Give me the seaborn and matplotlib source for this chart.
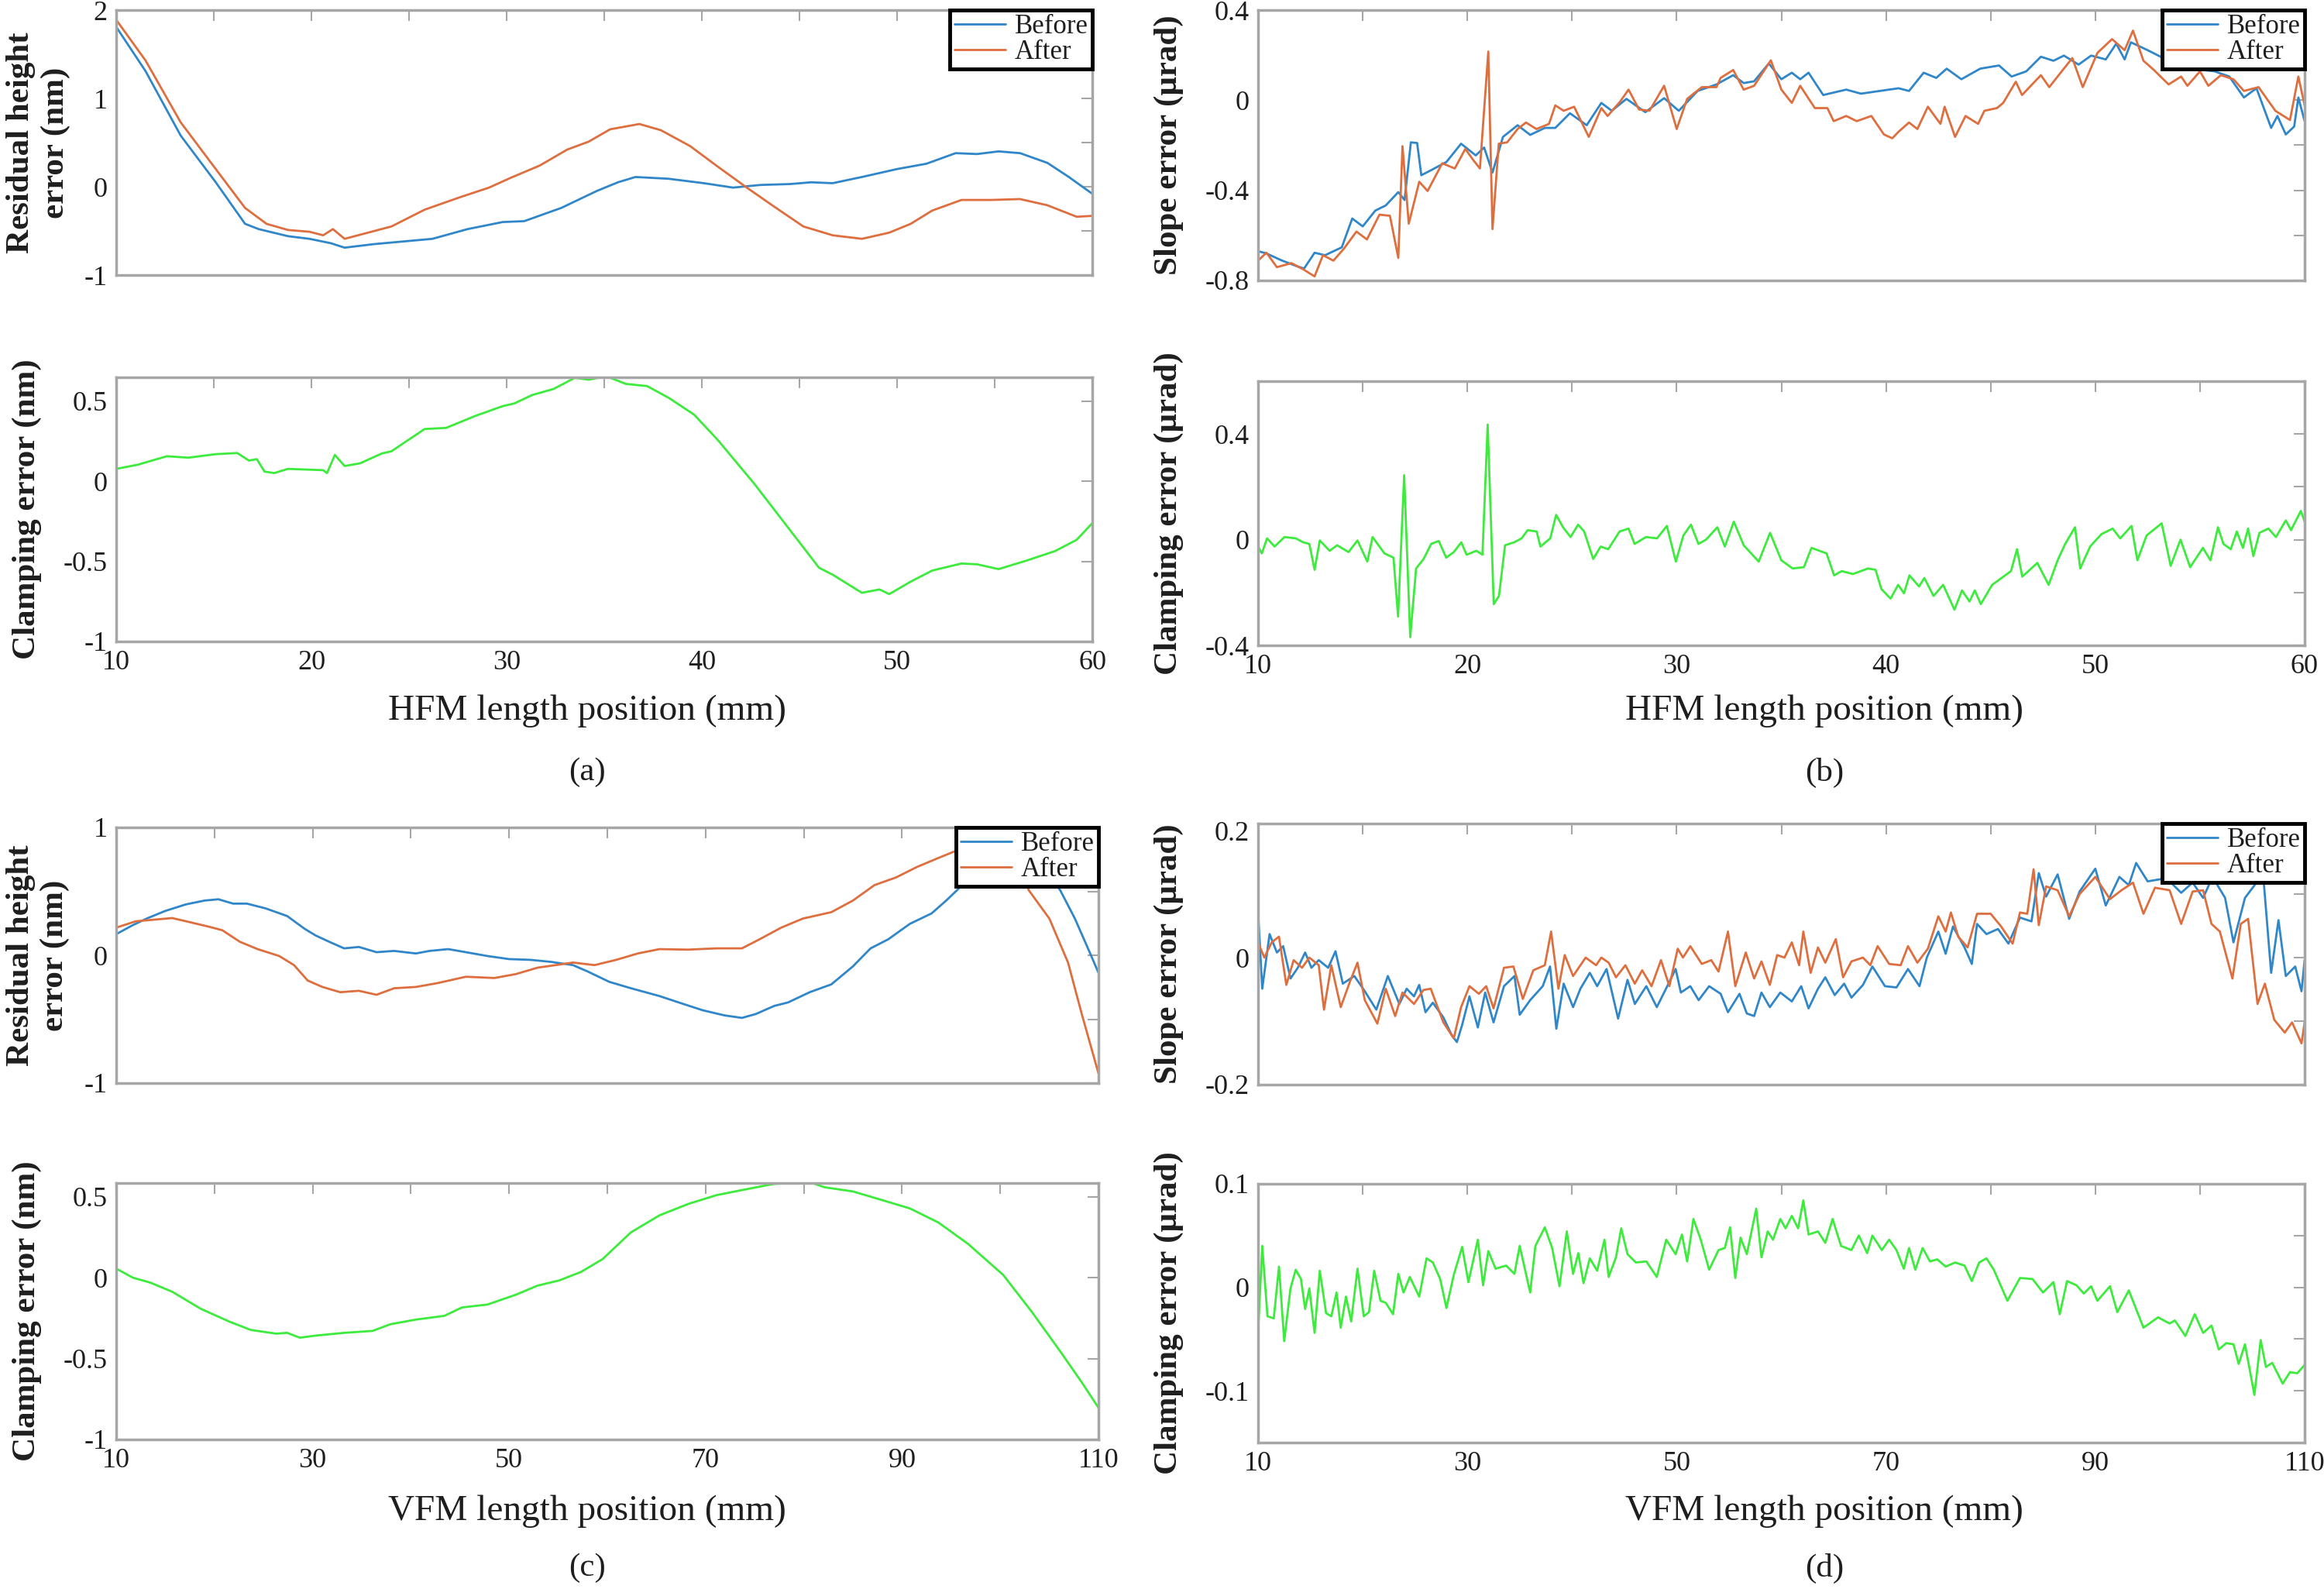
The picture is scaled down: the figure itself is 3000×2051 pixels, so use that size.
import numpy as np
import pandas as pd
import seaborn as sns
import matplotlib.pyplot as plt

# ---- (a) HFM, residual height error (nm) ----
a_before_x = [10.0, 11.5, 13.3, 15.1, 16.6, 17.3, 18.8, 19.9, 21.0, 21.7, 23.2, 24.7, 26.2, 28.0, 29.8,
              30.9, 32.8, 34.6, 35.7, 36.6, 38.3, 40.1, 41.6, 43.0, 44.5, 45.6, 46.7, 48.2, 50.0, 51.5,
              53.0, 54.1, 55.2, 56.3, 57.7, 58.8, 60.0]
a_before_y = [1.81, 1.31, 0.58, 0.05, -0.42, -0.48, -0.56, -0.59, -0.64, -0.69, -0.65, -0.62, -0.59, -0.48, -0.40,
              -0.39, -0.24, -0.05, 0.05, 0.11, 0.09, 0.04, -0.01, 0.02, 0.03, 0.05, 0.04, 0.11, 0.20, 0.26,
              0.38, 0.37, 0.40, 0.38, 0.27, 0.11, -0.08]
a_after_x = [10.0, 11.5, 13.3, 15.1, 16.6, 17.7, 18.8, 19.9, 20.6, 21.1, 21.7, 22.9, 24.1, 25.8, 27.6,
             29.1, 30.2, 31.7, 33.1, 34.2, 35.3, 36.8, 37.9, 39.4, 40.8, 42.3, 43.8, 45.2, 46.7, 48.2,
             49.6, 50.7, 51.8, 53.3, 54.8, 56.3, 57.7, 59.2, 60.0]
a_after_y = [1.89, 1.43, 0.73, 0.20, -0.24, -0.42, -0.49, -0.51, -0.55, -0.48, -0.59, -0.52, -0.45, -0.26, -0.12,
             -0.01, 0.10, 0.24, 0.42, 0.51, 0.65, 0.71, 0.64, 0.46, 0.23, -0.01, -0.24, -0.45, -0.55, -0.59,
             -0.52, -0.42, -0.27, -0.15, -0.15, -0.14, -0.21, -0.34, -0.33]
a_clamp_x = [10.0, 11.1, 12.6, 13.7, 15.1, 16.2, 16.8, 17.2, 17.6, 18.1, 18.8, 20.6, 20.8, 21.2, 21.7,
             22.5, 23.6, 24.1, 25.8, 26.9, 28.4, 29.8, 30.4, 31.3, 32.4, 33.5, 34.2, 35.1, 36.1, 37.2,
             38.3, 39.6, 40.8, 42.7, 43.8, 44.9, 46.0, 46.7, 48.2, 49.1, 49.6, 50.7, 51.8, 53.3, 54.1,
             55.2, 56.6, 58.1, 59.2, 60.0]
a_clamp_y = [0.078, 0.104, 0.157, 0.148, 0.17, 0.177, 0.13, 0.139, 0.061, 0.052, 0.078, 0.07, 0.052, 0.165, 0.096,
             0.113, 0.174, 0.188, 0.327, 0.334, 0.409, 0.47, 0.487, 0.539, 0.577, 0.647, 0.635, 0.657, 0.609, 0.595,
             0.522, 0.417, 0.261, -0.017, -0.191, -0.365, -0.539, -0.583, -0.696, -0.675, -0.704, -0.626, -0.557,
             -0.513, -0.518, -0.548, -0.496, -0.435, -0.365, -0.261]

# ---- (b) HFM, slope error (urad) ----
b_before_x = [10.0, 10.4, 11.1, 11.8, 12.2, 12.7, 13.2, 14.0, 14.5, 15.0, 15.6, 16.1, 16.7, 17.0, 17.3,
              17.6, 17.8, 18.3, 19.0, 19.7, 20.4, 20.8, 21.2, 21.7, 22.4, 23.0, 23.7, 24.2, 24.9, 25.7,
              26.4, 26.9, 27.6, 28.5, 29.4, 30.1, 31.0, 31.9, 32.7, 33.2, 33.7, 34.4, 35.0, 35.5, 35.9,
              36.3, 37.0, 38.1, 38.8, 39.7, 40.6, 41.1, 41.8, 42.4, 42.9, 43.6, 44.5, 45.4, 46.0, 46.7,
              47.4, 48.0, 48.5, 49.2, 49.8, 50.5, 51.0, 51.4, 51.7, 52.5, 53.5, 54.6, 55.7, 56.4, 57.1,
              57.7, 58.4, 58.7, 59.1, 59.5, 59.7, 60.0]
b_before_y = [-0.67, -0.68, -0.71, -0.735, -0.747, -0.677, -0.688, -0.653, -0.525, -0.56, -0.49, -0.467, -0.408,
              -0.443, -0.187, -0.19, -0.333, -0.309, -0.274, -0.193, -0.245, -0.21, -0.321, -0.163, -0.111,
              -0.154, -0.123, -0.123, -0.058, -0.111, -0.012, -0.047, 0.006, -0.053, 0.009, -0.047, 0.041,
              0.07, 0.111, 0.076, 0.084, 0.163, 0.093, 0.122, 0.093, 0.122, 0.023, 0.047, 0.029, 0.041,
              0.053, 0.041, 0.122, 0.099, 0.14, 0.093, 0.14, 0.154, 0.105, 0.128, 0.193, 0.175, 0.198,
              0.158, 0.198, 0.181, 0.251, 0.181, 0.257, 0.222, 0.175, 0.14, 0.128, 0.105, 0.012, 0.053,
              -0.123, -0.07, -0.152, -0.117, 0.012, -0.093]
b_after_x = [10.0, 10.4, 10.9, 11.6, 12.2, 12.7, 13.1, 13.6, 14.1, 14.7, 15.2, 15.8, 16.3, 16.7, 16.9,
             17.2, 17.7, 18.1, 18.8, 19.4, 19.9, 20.3, 20.6, 21.0, 21.2, 21.5, 21.9, 22.4, 22.8, 23.3,
             23.9, 24.2, 24.6, 25.1, 25.8, 26.4, 26.7, 27.3, 27.7, 28.2, 28.7, 29.4, 30.0, 30.5, 31.2,
             31.9, 32.1, 32.7, 33.2, 33.7, 34.5, 35.0, 35.5, 35.9, 36.6, 37.2, 37.5, 38.1, 38.6, 39.3,
             39.9, 40.3, 40.6, 41.1, 41.5, 42.0, 42.6, 42.8, 43.3, 43.8, 44.4, 44.7, 45.3, 45.6, 46.2,
             46.5, 47.4, 47.8, 48.3, 48.9, 49.4, 50.1, 50.8, 51.4, 51.8, 52.3, 52.8, 53.5, 54.1, 54.4,
             55.0, 55.4, 56.0, 56.6, 57.1, 57.8, 58.6, 59.3, 59.7, 60.0]
b_after_y = [-0.712, -0.677, -0.741, -0.723, -0.753, -0.782, -0.688, -0.712, -0.659, -0.583, -0.618, -0.508,
             -0.513, -0.70, -0.204, -0.548, -0.362, -0.403, -0.28, -0.303, -0.216, -0.268, -0.303, 0.216,
             -0.572, -0.193, -0.187, -0.128, -0.099, -0.128, -0.105, -0.023, -0.047, -0.029, -0.163, -0.035,
             -0.07, -0.006, 0.047, -0.041, -0.047, 0.064, -0.128, 0.006, 0.058, 0.058, 0.099, 0.134, 0.047,
             0.064, 0.177, 0.047, -0.012, 0.064, -0.035, -0.035, -0.093, -0.07, -0.093, -0.07, -0.152,
             -0.169, -0.14, -0.099, -0.128, -0.029, -0.105, -0.029, -0.163, -0.07, -0.105, -0.047, -0.035,
             -0.012, 0.082, 0.023, 0.111, 0.058, 0.117, 0.187, 0.058, 0.21, 0.271, 0.222, 0.309, 0.175,
             0.134, 0.07, 0.105, 0.064, 0.128, 0.064, 0.111, 0.093, 0.041, 0.058, -0.047, -0.088, 0.105, -0.023]
b_clamp_x = [10.0, 10.18, 10.43, 10.79, 11.26, 11.8, 12.16, 12.45, 12.7, 12.95,
             13.42, 13.78, 14.32, 14.75, 15.22, 15.47, 16.04, 16.47, 16.69, 16.98,
             17.27, 17.55, 17.91, 18.27, 18.63, 18.99, 19.35, 19.71, 19.96, 20.43,
             20.72, 20.97, 21.26, 21.51, 21.8, 22.23, 22.59, 22.88, 23.31, 23.49,
             23.96, 24.24, 24.57, 24.93, 25.29, 25.58, 26.01, 26.37, 26.73, 27.27,
             27.7, 27.99, 28.53, 29.06, 29.53, 29.96, 30.32, 30.68, 31.04, 31.4,
             31.94, 32.3, 32.73, 33.2, 33.92, 34.46, 35.0, 35.54, 36.08, 36.44,
             37.16, 37.52, 37.88, 38.42, 39.14, 39.5, 39.78, 40.22, 40.58, 40.86,
             41.12, 41.58, 41.83, 42.27, 42.73, 43.27, 43.63, 43.99, 44.24, 44.53,
             45.07, 45.61, 45.97, 46.26, 46.51, 47.23, 47.77, 48.2, 48.56, 49.03,
             49.28, 49.75, 50.29, 50.83, 51.19, 51.73, 52.01, 52.45, 53.17, 53.6,
             54.07, 54.53, 55.14, 55.5, 55.86, 56.12, 56.47, 56.76, 57.05, 57.3,
             57.55, 57.84, 58.27, 58.63, 59.1, 59.35, 59.82, 60.0]
b_clamp_y = [-0.026, -0.052, 0.005, -0.026, 0.01, 0.005, -0.01, -0.016, -0.114, -0.003,
             -0.042, -0.021, -0.047, -0.003, -0.083, 0.01, -0.052, -0.068, -0.291, 0.244,
             -0.369, -0.109, -0.073, -0.016, -0.005, -0.068, -0.047, -0.01, -0.057, -0.042,
             -0.057, 0.436, -0.244, -0.213, -0.021, -0.01, 0.005, 0.036, 0.031, -0.026,
             0.005, 0.094, 0.047, 0.01, 0.057, 0.031, -0.073, -0.026, -0.036, 0.031,
             0.042, -0.016, 0.01, 0.005, 0.052, -0.083, 0.016, 0.057, -0.016, 0.0,
             0.047, -0.026, 0.068, -0.021, -0.083, 0.026, -0.078, -0.109, -0.104, -0.031,
             -0.052, -0.135, -0.119, -0.13, -0.109, -0.114, -0.187, -0.223, -0.171, -0.203,
             -0.135, -0.177, -0.145, -0.213, -0.171, -0.265, -0.192, -0.234, -0.192, -0.244,
             -0.171, -0.14, -0.119, -0.036, -0.14, -0.088, -0.171, -0.078, -0.016, 0.047,
             -0.109, -0.026, 0.021, 0.042, 0.005, 0.052, -0.078, 0.016, 0.062, -0.099,
             0.0, -0.104, -0.031, -0.078, 0.047, -0.016, -0.036, 0.031, -0.031, 0.042,
             -0.062, 0.026, 0.042, 0.01, 0.073, 0.036, 0.109, 0.068]

# ---- (c) VFM, residual height error (nm) ----
c_before_x = [10.0, 11.7, 13.1, 15.0, 17.1, 19.0, 20.4, 21.9, 23.3, 25.2, 27.4, 29.2, 30.3, 31.7, 33.2,
              34.7, 36.5, 38.3, 40.5, 41.9, 43.8, 45.6, 47.8, 50.0, 52.2, 54.3, 56.5, 58.0, 60.2, 62.4,
              65.3, 67.5, 69.7, 71.9, 73.7, 75.1, 77.0, 78.4, 80.6, 82.8, 85.0, 86.8, 88.6, 90.8, 93.0,
              94.5, 95.6, 97.4, 99.6, 102.5, 104.7, 106.1, 107.6, 109.1, 110.0]
c_before_y = [0.165, 0.236, 0.287, 0.347, 0.398, 0.428, 0.438, 0.404, 0.404, 0.367, 0.307, 0.206, 0.155, 0.105,
              0.054, 0.065, 0.024, 0.034, 0.014, 0.034, 0.048, 0.024, -0.006, -0.03, -0.036, -0.052, -0.077,
              -0.127, -0.208, -0.258, -0.319, -0.375, -0.43, -0.47, -0.49, -0.46, -0.396, -0.369, -0.289,
              -0.228, -0.087, 0.054, 0.125, 0.246, 0.327, 0.428, 0.509, 0.65, 0.72, 0.75, 0.65, 0.509,
              0.287, 0.024, -0.137]
c_after_x = [10.0, 12.0, 13.5, 15.7, 17.1, 19.3, 20.8, 22.6, 24.4, 26.6, 28.1, 29.5, 31.0, 32.8, 34.7,
             36.5, 38.3, 40.5, 42.7, 45.6, 48.5, 50.7, 52.9, 55.1, 56.5, 58.7, 60.9, 63.1, 65.3, 68.2,
             71.1, 73.7, 75.5, 77.7, 79.9, 82.8, 85.0, 87.2, 89.4, 91.5, 93.7, 95.9, 98.8, 101.8, 102.9,
             105.0, 106.9, 108.3, 110.0]
c_after_y = [0.216, 0.266, 0.276, 0.291, 0.266, 0.226, 0.196, 0.105, 0.048, -0.006, -0.077, -0.198, -0.248,
             -0.289, -0.278, -0.309, -0.258, -0.248, -0.218, -0.168, -0.178, -0.147, -0.097, -0.073, -0.057,
             -0.077, -0.036, 0.014, 0.048, 0.044, 0.054, 0.054, 0.125, 0.216, 0.287, 0.337, 0.428, 0.549,
             0.609, 0.69, 0.761, 0.83, 0.86, 0.72, 0.509, 0.287, -0.057, -0.46, -0.924]
c_clamp_x = [10.0, 11.7, 13.5, 15.7, 18.6, 21.5, 23.7, 26.3, 27.4, 28.7, 30.3, 33.2, 36.1, 37.9, 40.5,
             43.4, 45.2, 47.8, 50.7, 52.9, 55.1, 57.3, 59.5, 62.4, 65.3, 68.2, 71.1, 74.0, 77.0, 79.1,
             80.6, 82.1, 85.0, 87.9, 90.8, 93.7, 96.7, 100.3, 103.2, 106.1, 108.3, 110.0]
c_clamp_y = [0.056, 0.0, -0.031, -0.087, -0.192, -0.271, -0.323, -0.346, -0.341, -0.371, -0.358, -0.341,
             -0.329, -0.288, -0.259, -0.236, -0.184, -0.166, -0.105, -0.049, -0.017, 0.035, 0.114, 0.28,
             0.385, 0.455, 0.51, 0.545, 0.58, 0.586, 0.591, 0.559, 0.533, 0.481, 0.428, 0.341, 0.21,
             0.017, -0.21, -0.455, -0.647, -0.804]

# ---- (d) VFM, slope error (urad) ----
d_before_x = [10.0, 10.4, 11.1, 11.8, 12.4, 13.1, 13.8, 14.5, 15.1, 15.8, 16.7, 17.4, 18.1, 19.2, 20.2,
              21.3, 22.4, 23.5, 24.2, 24.9, 25.4, 26.0, 26.7, 27.7, 28.5, 29.0, 29.5, 30.2, 31.0, 31.7,
              32.5, 33.5, 34.5, 35.0, 36.0, 37.2, 37.9, 38.5, 39.2, 40.1, 40.8, 41.7, 42.4, 43.3, 44.4,
              45.3, 46.0, 47.1, 48.1, 49.1, 49.9, 50.4, 51.3, 52.1, 53.1, 54.2, 54.9, 56.0, 56.7, 57.4,
              58.1, 58.9, 59.9, 61.0, 61.9, 62.6, 63.5, 64.2, 65.1, 66.0, 66.7, 67.8, 68.7, 69.9, 71.0,
              72.1, 73.2, 73.9, 75.0, 75.7, 76.4, 77.5, 78.2, 78.7, 79.6, 80.7, 81.7, 82.8, 83.9, 84.6,
              85.3, 86.4, 87.5, 88.5, 90.0, 91.0, 92.3, 93.2, 93.9, 95.0, 96.8, 98.2, 99.3, 100.3, 101.2,
              102.4, 103.2, 104.3, 105.4, 106.1, 106.8, 107.5, 108.2, 109.1, 109.7, 110.0]
d_before_y = [0.073, -0.049, 0.037, 0.008, 0.018, -0.033, -0.016, 0.008, -0.016, -0.004,
              -0.016, 0.01, -0.041, -0.029, -0.053, -0.082, -0.029, -0.073, -0.049, -0.061,
              -0.043, -0.086, -0.071, -0.094, -0.122, -0.133, -0.106, -0.061, -0.11, -0.055,
              -0.102, -0.045, -0.029, -0.09, -0.067, -0.045, -0.014, -0.112, -0.041, -0.078,
              -0.049, -0.024, -0.045, -0.018, -0.096, -0.035, -0.073, -0.045, -0.078, -0.045,
              -0.018, -0.055, -0.045, -0.067, -0.045, -0.057, -0.086, -0.057, -0.088, -0.092,
              -0.055, -0.078, -0.055, -0.069, -0.045, -0.08, -0.049, -0.031, -0.059, -0.041,
              -0.063, -0.043, -0.014, -0.045, -0.047, -0.018, -0.045, 0.0, 0.041, 0.006,
              0.049, 0.016, -0.01, 0.053, 0.037, 0.045, 0.022, 0.063, 0.057, 0.133,
              0.096, 0.131, 0.061, 0.104, 0.14, 0.082, 0.127, 0.114, 0.149, 0.12,
              0.125, 0.102, 0.118, 0.094, 0.127, 0.094, 0.024, 0.094, 0.118, 0.118,
              -0.024, 0.059, -0.029, -0.014, -0.053, -0.004]
d_after_x = [10.0, 10.6, 11.3, 12.0, 12.7, 13.4, 14.2, 14.9, 15.8, 16.3, 17.0, 17.9, 18.8, 19.5, 20.2,
             21.4, 22.2, 23.1, 23.8, 24.9, 25.8, 26.5, 27.7, 28.7, 29.4, 30.2, 31.1, 31.8, 32.5, 33.5,
             34.4, 35.3, 36.3, 37.4, 38.0, 38.7, 39.3, 40.1, 41.3, 42.3, 42.8, 43.5, 44.2, 45.1, 46.0,
             46.7, 47.6, 48.5, 49.3, 50.1, 50.6, 51.3, 52.4, 53.3, 54.0, 54.9, 55.6, 56.6, 57.4, 58.1,
             58.9, 59.6, 60.3, 61.0, 61.7, 62.1, 62.8, 63.5, 64.2, 65.2, 65.9, 66.7, 67.8, 68.5, 69.2,
             70.3, 71.4, 72.1, 73.0, 74.0, 75.0, 75.7, 76.2, 76.9, 77.8, 78.7, 80.0, 81.0, 82.1, 82.8,
             83.5, 84.1, 84.6, 85.3, 86.4, 87.5, 88.5, 90.0, 91.4, 92.5, 93.6, 94.6, 95.7, 97.1, 98.2,
             99.3, 100.3, 101.1, 101.9, 103.1, 103.9, 104.6, 105.5, 106.2, 107.1, 108.1, 108.8, 109.7, 110.0]
d_after_y = [0.024, 0.0, 0.024, 0.033, -0.043, -0.004, -0.016, 0.0, -0.012, -0.082,
             -0.012, -0.078, -0.037, -0.008, -0.067, -0.104, -0.049, -0.092, -0.055, -0.073,
             -0.051, -0.049, -0.102, -0.127, -0.078, -0.045, -0.057, -0.045, -0.08, -0.016,
             -0.014, -0.065, -0.02, -0.012, 0.041, -0.049, 0.004, -0.029, 0.0, -0.012,
             0.0, -0.008, -0.031, -0.012, -0.041, -0.02, -0.045, -0.004, -0.045, 0.014,
             0.0, 0.018, -0.01, -0.004, -0.022, 0.041, -0.045, 0.008, -0.033, -0.006,
             -0.043, 0.004, 0.0, 0.024, -0.012, 0.041, -0.024, 0.016, -0.008, 0.029,
             -0.031, -0.006, 0.0, -0.012, 0.018, -0.01, -0.012, 0.018, -0.008, 0.014,
             0.065, 0.041, 0.071, 0.033, 0.016, 0.069, 0.069, 0.049, 0.022, 0.071,
             0.069, 0.139, 0.051, 0.112, 0.106, 0.065, 0.1, 0.127, 0.092, 0.106,
             0.118, 0.069, 0.11, 0.106, 0.053, 0.104, 0.106, 0.053, 0.041, -0.033,
             0.053, 0.061, -0.073, -0.041, -0.098, -0.118, -0.102, -0.135, -0.102]
d_clamp_x = [10.0, 10.4, 10.9, 11.5, 12.0, 12.5, 13.1, 13.6, 14.1, 14.5,
             14.9, 15.4, 15.9, 16.5, 17.0, 17.5, 17.9, 18.4, 18.9, 19.5,
             20.1, 20.6, 21.1, 21.7, 22.2, 22.9, 23.4, 23.9, 24.5, 25.4,
             26.1, 26.7, 27.4, 28.0, 28.7, 29.5, 30.1, 31.0, 31.5, 32.0,
             32.7, 33.7, 34.5, 35.0, 36.0, 36.5, 37.4, 38.1, 38.8, 39.5,
             40.1, 40.6, 41.1, 41.7, 42.4, 43.1, 43.5, 44.2, 44.7, 45.3,
             46.1, 47.1, 48.1, 49.0, 49.9, 50.5, 51.0, 51.6, 52.3, 53.1,
             54.0, 54.6, 55.1, 55.6, 56.1, 56.7, 57.6, 58.1, 58.7, 59.2,
             59.9, 60.4, 61.0, 61.6, 62.1, 62.6, 63.5, 64.2, 64.9, 65.7,
             66.7, 67.4, 68.2, 68.7, 69.6, 70.3, 71.0, 71.7, 72.2, 72.8,
             73.5, 74.2, 74.9, 75.7, 76.6, 77.5, 78.2, 78.9, 79.6, 80.3,
             81.6, 82.8, 84.0, 85.0, 86.0, 86.6, 87.3, 88.2, 88.9, 89.6,
             90.2, 91.4, 92.1, 93.2, 94.6, 96.0, 97.1, 97.6, 98.6, 99.5,
             100.3, 101.1, 101.8, 102.5, 103.2, 103.7, 104.3, 105.2, 105.8, 106.3,
             106.9, 107.9, 108.6, 109.3, 110.0]
d_clamp_y = [-0.044, 0.04, -0.028, -0.03, 0.02, -0.052, -0.001, 0.017, 0.008, -0.021,
             -0.001, -0.044, 0.016, -0.025, -0.028, -0.005, -0.039, -0.009, -0.033, 0.018,
             -0.028, -0.024, 0.016, -0.013, -0.015, -0.026, 0.013, -0.005, 0.01, -0.009,
             0.028, 0.024, 0.008, -0.02, 0.012, 0.039, 0.005, 0.046, 0.002, 0.035,
             0.018, 0.021, 0.013, 0.04, -0.005, 0.04, 0.058, 0.038, 0.001, 0.054,
             0.013, 0.033, 0.004, 0.028, 0.016, 0.046, 0.01, 0.029, 0.057, 0.032,
             0.024, 0.025, 0.01, 0.046, 0.032, 0.051, 0.025, 0.066, 0.046, 0.017,
             0.036, 0.038, 0.058, 0.009, 0.048, 0.032, 0.076, 0.029, 0.054, 0.046,
             0.066, 0.057, 0.069, 0.057, 0.084, 0.051, 0.054, 0.043, 0.066, 0.04,
             0.036, 0.05, 0.033, 0.05, 0.036, 0.046, 0.036, 0.018, 0.038, 0.017,
             0.038, 0.025, 0.027, 0.02, 0.024, 0.021, 0.006, 0.024, 0.028, 0.017,
             -0.013, 0.009, 0.008, -0.005, 0.005, -0.026, 0.006, 0.002, -0.006, 0.001,
             -0.013, 0.001, -0.024, -0.003, -0.039, -0.029, -0.035, -0.032, -0.047, -0.026,
             -0.044, -0.037, -0.06, -0.054, -0.055, -0.074, -0.055, -0.104, -0.051, -0.077,
             -0.073, -0.093, -0.082, -0.083, -0.075]

hfm_ticks = [10, 15, 20, 25, 30, 35, 40, 45, 50, 55, 60]
hfm_ticklabels = ['10', '', '20', '', '30', '', '40', '', '50', '', '60']
vfm_ticks = [10, 20, 30, 40, 50, 60, 70, 80, 90, 100, 110]
vfm_ticklabels = ['10', '', '30', '', '50', '', '70', '', '90', '', '110']

sns.set_style("white")
plt.rcParams['font.family'] = ['Liberation Serif', 'DejaVu Serif']

BLUE = '#2F86C9'
ORANGE = '#DE6E3E'
GREEN = '#3CEB3C'
FRAME = '#A6A6A6'
INK = '#1E1E1E'
W, H = 3000, 2051

fig = plt.figure(figsize=(30, 20.51), dpi=100)


def add_box(left, top, right, bottom):
    return fig.add_axes([left / W, 1 - bottom / H, (right - left) / W, (bottom - top) / H])


def style(ax, xlim, xticks, xlabels, ylim, yticks, ylabels, ylabel, ylab_x):
    ax.set_xlim(xlim)
    ax.set_ylim(ylim)
    ax.set_xticks(xticks)
    ax.set_xticklabels(xlabels)
    ax.set_yticks(yticks)
    ax.set_yticklabels(ylabels)
    ax.tick_params(direction='in', length=10, width=1.5, color=FRAME, top=True, right=True,
                   labelsize=26, pad=8, labelcolor=INK)
    for s in ax.spines.values():
        s.set_color(FRAME)
        s.set_linewidth(2.5)
    ax.set_xlabel('')
    ax.set_ylabel(ylabel, fontsize=31, fontweight='bold', linespacing=1.2, color=INK)
    ax.yaxis.set_label_coords(ylab_x, 0.5)


def pair(ax, bx, by, ax_, ay):
    sns.lineplot(x=bx, y=by, ax=ax, color=BLUE, lw=2.0, label='Before', estimator=None, sort=False)
    sns.lineplot(x=ax_, y=ay, ax=ax, color=ORANGE, lw=2.0, label='After', estimator=None, sort=False)
    leg = ax.legend(loc='upper right', borderaxespad=0, frameon=True, fancybox=False, framealpha=1,
                    edgecolor='black', fontsize=25, handlelength=1.9, labelspacing=0.0,
                    borderpad=0.15, handletextpad=0.35)
    leg.get_frame().set_linewidth(3.5)
    for t in leg.get_texts():
        t.set_color(INK)


def single(ax, x, y):
    sns.lineplot(x=x, y=y, ax=ax, color=GREEN, lw=2.0, estimator=None, sort=False)


blank11 = [''] * 11

# (a)
ax = add_box(150, 13, 1410, 355)
pair(ax, a_before_x, a_before_y, a_after_x, a_after_y)
style(ax, (10, 60), hfm_ticks, blank11, (-1, 2), [-1, -0.5, 0, 0.5, 1, 1.5, 2],
      ['-1', '', '0', '', '1', '', '2'], 'Residual height\nerror (nm)', -0.047)
ax = add_box(150, 487, 1410, 828)
single(ax, a_clamp_x, a_clamp_y)
style(ax, (10, 60), hfm_ticks, hfm_ticklabels, (-1, 0.65), [-1, -0.5, 0, 0.5],
      ['-1', '-0.5', '0', '0.5'], 'Clamping error (nm)', -0.076)

# (b)
ax = add_box(1624, 13, 2975, 362)
pair(ax, b_before_x, b_before_y, b_after_x, b_after_y)
style(ax, (10, 60), hfm_ticks, blank11, (-0.8, 0.4), [-0.8, -0.6, -0.4, -0.2, 0, 0.2, 0.4],
      ['-0.8', '', '-0.4', '', '0', '', '0.4'], 'Slope error (μrad)', -0.071)
ax = add_box(1624, 492, 2975, 833)
single(ax, b_clamp_x, b_clamp_y)
style(ax, (10, 60), hfm_ticks, hfm_ticklabels, (-0.4, 0.6), [-0.4, -0.2, 0, 0.2, 0.4],
      ['-0.4', '', '0', '', '0.4'], 'Clamping error (μrad)', -0.071)

# (c)
ax = add_box(150, 1068, 1418, 1398)
pair(ax, c_before_x, c_before_y, c_after_x, c_after_y)
style(ax, (10, 110), vfm_ticks, blank11, (-1, 1), [-1, -0.5, 0, 0.5, 1],
      ['-1', '', '0', '', '1'], 'Residual height\nerror (nm)', -0.047)
ax = add_box(150, 1527, 1418, 1858)
single(ax, c_clamp_x, c_clamp_y)
style(ax, (10, 110), vfm_ticks, vfm_ticklabels, (-1, 0.585), [-1, -0.5, 0, 0.5],
      ['-1', '-0.5', '0', '0.5'], 'Clamping error (nm)', -0.076)

# (d)
ax = add_box(1624, 1063, 2975, 1400)
pair(ax, d_before_x, d_before_y, d_after_x, d_after_y)
style(ax, (10, 110), vfm_ticks, blank11, (-0.2, 0.211), [-0.2, -0.1, 0, 0.1, 0.2],
      ['-0.2', '', '0', '', '0.2'], 'Slope error (μrad)', -0.071)
ax = add_box(1624, 1528, 2975, 1862)
single(ax, d_clamp_x, d_clamp_y)
style(ax, (10, 110), vfm_ticks, vfm_ticklabels, (-0.15, 0.1), [-0.15, -0.1, -0.05, 0, 0.05, 0.1],
      ['', '-0.1', '', '0', '', '0.1'], 'Clamping error (μrad)', -0.071)

# axis titles and panel captions
for cx, cy, txt in [(758, 918, 'HFM length position (mm)'), (2355, 918, 'HFM length position (mm)'),
                    (758, 1951, 'VFM length position (mm)'), (2355, 1951, 'VFM length position (mm)')]:
    fig.text(cx / W, 1 - cy / H, txt, ha='center', va='center', fontsize=34, color=INK)
for cx, cy, txt in [(758, 997, '(a)'), (2355, 997, '(b)'), (758, 2024, '(c)'), (2355, 2024, '(d)')]:
    fig.text(cx / W, 1 - cy / H, txt, ha='center', va='center', fontsize=31, color=INK)

fig.savefig('out.png', dpi=100, facecolor='white')
